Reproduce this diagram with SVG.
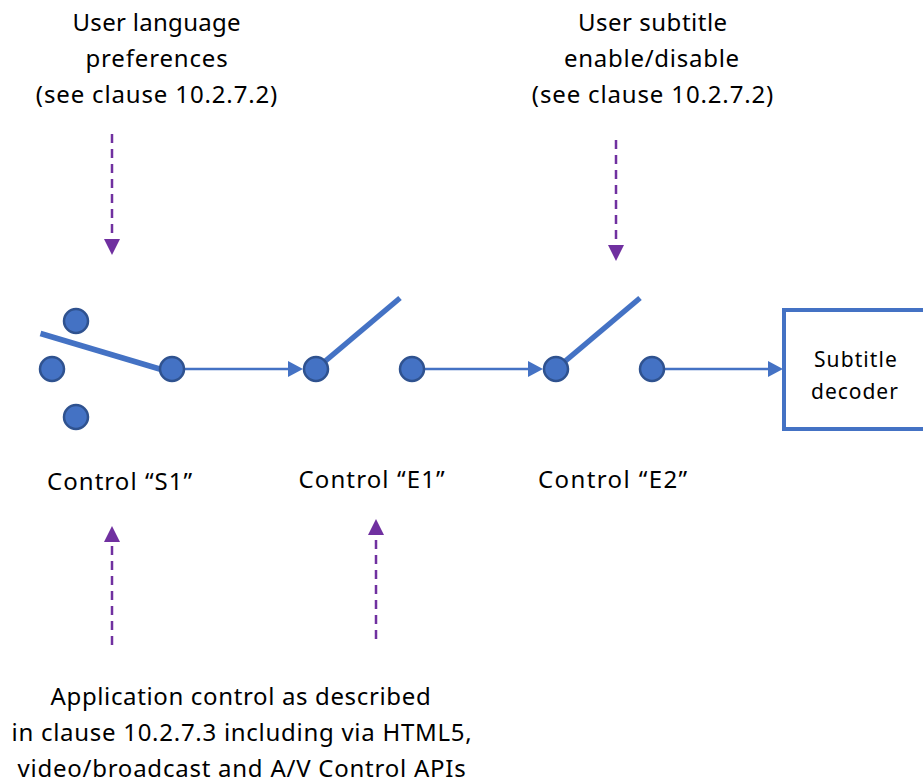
<svg xmlns="http://www.w3.org/2000/svg" width="923" height="783" viewBox="0 0 923 783">
<defs>
<marker id="b" markerUnits="userSpaceOnUse" markerWidth="16" markerHeight="16" refX="2" refY="8" orient="auto"><path d="M0 0L15 8L0 16Z" fill="#4472c4"/></marker>
<marker id="p" markerUnits="userSpaceOnUse" markerWidth="16" markerHeight="16" refX="2" refY="8" orient="auto"><path d="M0 0L16 8L0 16Z" fill="#7030a0"/></marker>
</defs>
<style>
text{font-family:"Noto Sans","Open Sans",sans-serif;font-size:24px;fill:#000;text-anchor:middle;letter-spacing:.85px}
.s{font-size:21px;letter-spacing:1.2px}
.c{fill:#4472c4;stroke:#2f528f;stroke-width:2.5}
.w{stroke:#4472c4;stroke-width:5.5;fill:none}
.a{stroke:#4472c4;stroke-width:2.5;fill:none;marker-end:url(#b)}
.d{stroke:#7030a0;stroke-width:2.5;fill:none;stroke-dasharray:9 6;marker-end:url(#p)}
</style>
<g id="connectors">
<path class="a" d="M184 369H290"/>
<path class="a" d="M424 369H530"/>
<path class="a" d="M664 369H770"/>
<path class="d" d="M112 134V241"/>
<path class="d" d="M616 140V247"/>
<path class="d" d="M112 645V540"/>
<path class="d" d="M376 639V533"/>
<path class="w" d="M40.500 333.500L163 370"/>
<path class="w" d="M323 363L400 298"/>
<path class="w" d="M563 363L640 298"/>
</g>
<g id="s1-top"><circle class="c" cx="76" cy="321" r="12"/></g>
<g id="s1-mid"><circle class="c" cx="52" cy="369" r="12"/></g>
<g id="s1-bot"><circle class="c" cx="76" cy="417" r="12"/></g>
<g id="s1-out"><circle class="c" cx="172" cy="369" r="12"/></g>
<g id="e1-in"><circle class="c" cx="316" cy="369" r="12"/></g>
<g id="e1-out"><circle class="c" cx="412" cy="369" r="12"/></g>
<g id="e2-in"><circle class="c" cx="556" cy="369" r="12"/></g>
<g id="e2-out"><circle class="c" cx="652" cy="369" r="12"/></g>
<g id="decoder"><path d="M923 310H784V429H923" fill="#fff" stroke="#4472c4" stroke-width="4"/>
<text class="s" x="856" y="367" textLength="84">Subtitle</text><text class="s" x="855" y="399" textLength="88">decoder</text></g>
<g id="label-lang"><text x="157" y="31" textLength="169">User language</text><text x="157" y="67">preferences</text><text x="157" y="103">(see clause 10.2.7.2)</text></g>
<g id="label-sub"><text x="653" y="31" textLength="150">User subtitle</text><text x="652" y="67" textLength="176">enable/disable</text><text x="653" y="103">(see clause 10.2.7.2)</text></g>
<g id="label-s1"><text x="120" y="490" textLength="146">Control “S1”</text></g>
<g id="label-e1"><text x="372" y="488" textLength="147">Control “E1”</text></g>
<g id="label-e2"><text x="613" y="488" textLength="150">Control “E2”</text></g>
<g id="label-app"><text x="241" y="705" textLength="381">Application control as described</text><text x="242" y="741" textLength="461">in clause 10.2.7.3 including via HTML5,</text><text x="242" y="777" textLength="449">video/broadcast and A/V Control APIs</text></g>
</svg>
